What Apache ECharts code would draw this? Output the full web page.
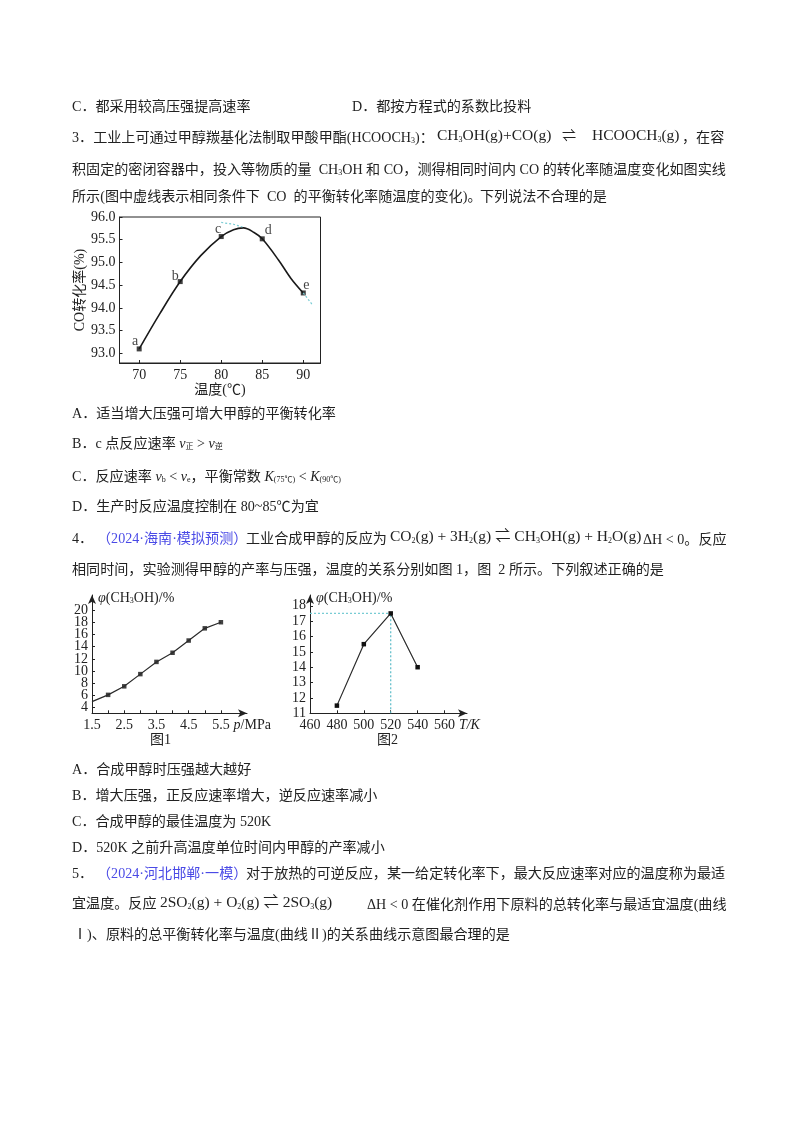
<!DOCTYPE html>
<html>
<head>
<meta charset="utf-8">
<title>chart</title>
<script src="https://cdn.jsdelivr.net/npm/echarts@6/dist/echarts.min.js"></script>
<style>
html,body{margin:0;padding:0;background:#fff;}
#main{width:800px;height:1132px;filter:blur(0.4px);}
</style>
</head>
<body>
<div id="main"></div>
<script>
// 图：CO转化率-温度
var coTemp = [70, 72.5, 75, 77.5, 80, 81.5, 82.7, 84, 85, 87, 88.5, 90];
var coRate = [93.1, 93.87, 94.58, 95.15, 95.57, 95.72, 95.76, 95.66, 95.52, 95.05, 94.65, 94.33];
var pointTemp = [70, 75, 80, 85, 90];
var pointRate = [93.1, 94.58, 95.57, 95.52, 94.33];
var pointName = ['a', 'b', 'c', 'd', 'e'];
var eqTempA = [80, 81.5, 82.6];
var eqRateA = [95.88, 95.84, 95.78];
var eqTempB = [90, 91.2];
var eqRateB = [94.33, 94.05];
var coXTicks = [70, 75, 80, 85, 90];
var coYTicks = [93, 93.5, 94, 94.5, 95, 95.5, 96];
// 图1
var pressure = [1.5, 2, 2.5, 3, 3.5, 4, 4.5, 5, 5.5];
var yieldP = [5, 6.1, 7.5, 9.5, 11.5, 13, 15, 17, 18];
var pXLabels = [1.5, 2.5, 3.5, 4.5, 5.5];
var pXTicks = [1.5, 2, 2.5, 3, 3.5, 4, 4.5, 5, 5.5];
var pYTicks = [4, 6, 8, 10, 12, 14, 16, 18, 20];
// 刻度太密，标签分到两条重合的轴上才不会被隐藏
var pYLabelsA = [4, 8, 12, 16, 20];
var pYLabelsB = [6, 10, 14, 18];
// 图2
var temperature = [480, 500, 520, 540];
var yieldT = [11.5, 15.5, 17.5, 14];
var peakT = 520;
var peakY = 17.5;
var tXTicks = [460, 480, 500, 520, 540, 560];
var tYTicks = [11, 12, 13, 14, 15, 16, 17, 18];

var SERIF = '"Liberation Serif","Noto Sans CJK SC",serif';
var INK = '#222';
var TEAL = '#78ccd4';

function zip(a, b) {
    return a.map(function (v, i) { return [v, b[i]]; });
}

// 文字样式
var rich = {
    n: {fontFamily: SERIF, fontSize: 14.1, fill: INK, color: INK},
    b: {fontFamily: SERIF, fontSize: 14.1, fill: '#4a4ae6', color: '#4a4ae6'},
    i: {fontFamily: SERIF, fontSize: 14.1, fontStyle: 'italic', fill: INK, color: INK},
    s: {fontFamily: SERIF, fontSize: 8, fill: INK, color: INK, verticalAlign: 'bottom', padding: [6, 0, 0, 0]},
    m: {fontFamily: SERIF, fontSize: 15.5, fill: INK, color: INK}
};

var textLines = [
    [72, 107, '{n|C．都采用较高压强提高速率}'],
    [352, 107, '{n|D．都按方程式的系数比投料}'],
    [72, 138, '{n|3．工业上可通过甲醇羰基化法制取甲酸甲酯(HCOOCH}{s|3}{n|)：}'],
    [437, 136, '{m|CH}{s|3}{m|OH(g)+CO(g)}'],
    [562, 136, '{n|⇌}'],
    [592, 136, '{m|HCOOCH}{s|3}{m|(g)}'],
    [682, 138, '{n|，在容}'],
    [72, 170, '{n|积固定的密闭容器中，投入等物质的量  CH}{s|3}{n|OH 和 CO，测得相同时间内 CO 的转化率随温度变化如图实线}'],
    [72, 197, '{n|所示(图中虚线表示相同条件下  CO  的平衡转化率随温度的变化)。}'],
    [480, 197, '{n|下列说法不合理的是}'],
    [72, 414, '{n|A．适当增大压强可增大甲醇的平衡转化率}'],
    [72, 444, '{n|B．c 点反应速率 }{i|v}{s|正}{n| > }{i|v}{s|逆}'],
    [72, 477, '{n|C．反应速率 }{i|v}{s|b}{n| < }{i|v}{s|e}{n|，平衡常数 }{i|K}{s|(75℃)}{n| < }{i|K}{s|(90℃)}'],
    [72, 507, '{n|D．生产时反应温度控制在 80~85℃为宜}'],
    [72, 539, '{n|4．}'],
    [97, 539, '{b|（2024·海南·模拟预测）}'],
    [246, 539, '{n|工业合成甲醇的反应为}'],
    [390, 537, '{m|CO}{s|2}{m|(g) + 3H}{s|2}{m|(g) ⇌ CH}{s|3}{m|OH(g) + H}{s|2}{m|O(g)}'],
    [643, 540, '{n|ΔH < 0。反应}'],
    [72, 570, '{n|相同时间，实验测得甲醇的产率与压强，温度的关系分别如图 1，图  2 所示。下列叙述正确的是}'],
    [72, 770, '{n|A．合成甲醇时压强越大越好}'],
    [72, 796, '{n|B．增大压强，正反应速率增大，逆反应速率减小}'],
    [72, 822, '{n|C．合成甲醇的最佳温度为 520K}'],
    [72, 848, '{n|D．520K 之前升高温度单位时间内甲醇的产率减小}'],
    [72, 874, '{n|5．}'],
    [97, 874, '{b|（2024·河北邯郸·一模）}'],
    [246, 874, '{n|对于放热的可逆反应，某一给定转化率下，最大反应速率对应的温度称为最适}'],
    [72, 904, '{n|宜温度。反应}'],
    [160, 903, '{m|2SO}{s|2}{m|(g) + O}{s|2}{m|(g) ⇌ 2SO}{s|3}{m|(g)}'],
    [367, 905, '{n|ΔH < 0 在催化剂作用下原料的总转化率与最适宜温度(曲线}'],
    [73, 935, '{n|Ⅰ)、原料的总平衡转化率与温度(曲线Ⅱ)的关系曲线示意图最合理的是}'],
    [150, 740, '{n|图1}'],
    [377, 740, '{n|图2}']
];

function get_graphic() {
    return textLines.map(function (l) {
        return {
            type: 'text',
            x: l[0],
            y: l[1],
            silent: true,
            style: {text: l[2], rich: rich, verticalAlign: 'middle', textVerticalAlign: 'middle', fill: INK}
        };
    });
}

function axisBase(isY) {
    return {
        type: 'value',
        splitLine: {show: false},
        axisLine: {show: true, onZero: false, lineStyle: {color: INK, width: 1}},
        axisTick: {show: true, inside: true, length: 3, lineStyle: {color: INK, width: 1}},
        axisLabel: {
            color: INK, fontFamily: SERIF, fontSize: 14, margin: isY ? 4 : 5, interval: 0,
            hideOverlap: false, showMinLabel: true, showMaxLabel: true
        },
        nameTextStyle: {color: INK, fontFamily: SERIF, fontSize: 14}
    };
}

function makeAxis(isY, extra, ticks, labels, digits) {
    var a = axisBase(isY);
    for (var k in extra) a[k] = extra[k];
    a.axisTick.customValues = ticks;
    a.axisLabel.customValues = labels;
    if (digits) {
        a.axisLabel.formatter = function (v) { return Number(v).toFixed(digits); };
    }
    return a;
}

function arrowLine(a) {
    a.axisLine.symbol = ['none', 'arrow'];
    a.axisLine.symbolSize = [6, 9];
    a.axisLine.symbolOffset = [0, 0];
    return a;
}

function get_option() {
    var phiName = '{p|φ}{t|(CH}{u|3}{t|OH)/%}';
    var phiRich = {
        p: {fontFamily: SERIF, fontStyle: 'italic', fontSize: 14, color: INK},
        t: {fontFamily: SERIF, fontSize: 14, color: INK},
        u: {fontFamily: SERIF, fontSize: 8, color: INK, verticalAlign: 'bottom', padding: [6, 0, 0, 0]}
    };
    var labelOffset = {a: [-4, 7], b: [-5, 9], c: [-3, 7], d: [6, 6], e: [3, 7]};

    var coX = makeAxis(false, {gridIndex: 0, min: 67.6, max: 92.1, name: '温度(℃)', nameLocation: 'middle', nameGap: 19}, coXTicks, coXTicks);
    var coY = makeAxis(true, {gridIndex: 0, min: 92.79, max: 96, name: 'CO转化率(%)', nameLocation: 'middle', nameGap: 29}, coYTicks, coYTicks, 1);

    var pX = arrowLine(makeAxis(false, {gridIndex: 1, min: 1.5, max: 6.31, name: '{i|p}{t|/MPa}', nameLocation: 'end', nameGap: -14,
        nameTextStyle: {color: INK, padding: [24, 0, 0, 0], rich: {i: {fontFamily: SERIF, fontStyle: 'italic', fontSize: 14, color: INK}, t: {fontFamily: SERIF, fontSize: 14, color: INK}}}}, pXTicks, pXLabels, 1));
    var pY = arrowLine(makeAxis(true, {gridIndex: 1, min: 3.08, max: 22.46, name: phiName, nameLocation: 'end', nameGap: -10,
        nameTextStyle: {align: 'left', padding: [0, 0, 0, 6], rich: phiRich}}, pYTicks, pYLabelsA));
    var pY2 = makeAxis(true, {gridIndex: 1, min: 3.08, max: 22.46, position: 'left'}, pYTicks, pYLabelsB);
    pY2.axisLine.show = false;
    pY2.axisTick.show = false;

    var tX = arrowLine(makeAxis(false, {gridIndex: 2, min: 460, max: 576.7, name: '{i|T/K}', nameLocation: 'end', nameGap: -12,
        nameTextStyle: {color: INK, padding: [24, 0, 0, 0], rich: {i: {fontFamily: SERIF, fontStyle: 'italic', fontSize: 14, color: INK}}}}, tXTicks, tXTicks));
    var tY = arrowLine(makeAxis(true, {gridIndex: 2, min: 11, max: 18.7, name: phiName, nameLocation: 'end', nameGap: -10,
        nameTextStyle: {align: 'left', padding: [0, 0, 0, 6], rich: phiRich}}, tYTicks, tYTicks));

    var square = {color: '#111'};
    return {
        animation: false,
        backgroundColor: '#fff',
        graphic: get_graphic(),
        grid: [
            {left: 119.5, top: 217, width: 201, height: 146, show: true, borderColor: INK, borderWidth: 1, backgroundColor: 'transparent'},
            {left: 92, top: 595, width: 155, height: 118.3},
            {left: 310, top: 595, width: 157, height: 118.3}
        ],
        xAxis: [coX, pX, tX],
        yAxis: [coY, pY, tY, pY2],
        series: [
            {type: 'line', xAxisIndex: 0, yAxisIndex: 0, data: zip(coTemp, coRate), smooth: 0.35, showSymbol: false, lineStyle: {color: '#1a1a1a', width: 1.6}},
            {type: 'line', xAxisIndex: 0, yAxisIndex: 0, data: zip(eqTempA, eqRateA), showSymbol: false, lineStyle: {color: TEAL, width: 1.2, type: [2, 2]}},
            {type: 'line', xAxisIndex: 0, yAxisIndex: 0, data: zip(eqTempB, eqRateB), showSymbol: false, lineStyle: {color: TEAL, width: 1.2, type: [2, 2]}},
            {
                type: 'scatter', xAxisIndex: 0, yAxisIndex: 0, symbol: 'rect', symbolSize: 5, itemStyle: square,
                data: pointName.map(function (n, i) {
                    return {value: [pointTemp[i], pointRate[i]], label: {show: true, position: 'top', offset: labelOffset[n], formatter: n, color: '#111', fontFamily: SERIF, fontSize: 14}};
                })
            },
            {type: 'line', xAxisIndex: 1, yAxisIndex: 1, data: zip(pressure, yieldP), showSymbol: false, lineStyle: {color: '#2a2a2a', width: 1.2}},
            {type: 'scatter', xAxisIndex: 1, yAxisIndex: 1, symbol: 'rect', symbolSize: 4.5, itemStyle: square, data: zip(pressure, yieldP).slice(1)},
            {type: 'line', xAxisIndex: 2, yAxisIndex: 2, data: [[460, peakY], [peakT, peakY]], showSymbol: false, lineStyle: {color: TEAL, width: 1.2, type: [2, 2]}},
            {type: 'line', xAxisIndex: 2, yAxisIndex: 2, data: [[peakT, 11], [peakT, peakY]], showSymbol: false, lineStyle: {color: '#5bbcc8', width: 1.2, type: [2, 2]}},
            {type: 'line', xAxisIndex: 2, yAxisIndex: 2, data: zip(temperature, yieldT), symbol: 'rect', symbolSize: 4.5, itemStyle: square, lineStyle: {color: '#2a2a2a', width: 1.2}}
        ]
    };
}

var myChart = echarts.init(document.getElementById('main'));
myChart.setOption(get_option());
</script>
</body>
</html>
